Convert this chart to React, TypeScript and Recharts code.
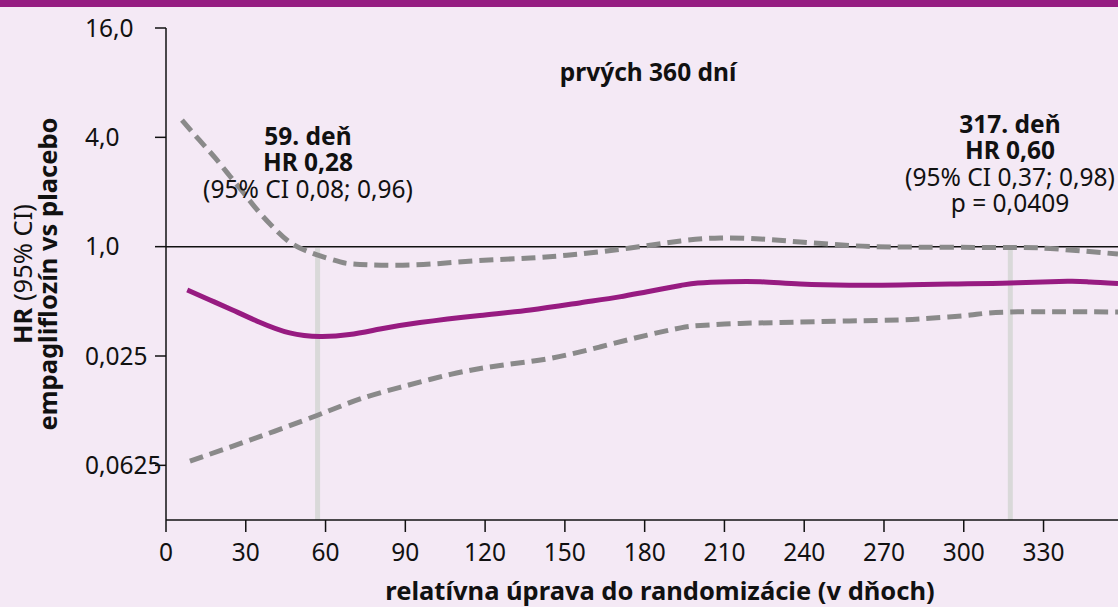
import { LineChart, Line, XAxis, YAxis, ReferenceLine } from "recharts";

// days since randomization, HR values
const estDays = [8, 16.5, 25, 35, 46.5, 58, 69, 80.5, 95.5, 118, 137, 155.5, 170.5, 181, 193.5, 200, 212, 223.5, 238.5, 257, 276, 295, 317.5, 339, 347.5, 358];
const estHR = [0.578, 0.509, 0.448, 0.385, 0.335, 0.32, 0.328, 0.352, 0.382, 0.418, 0.448, 0.49, 0.529, 0.565, 0.611, 0.631, 0.641, 0.641, 0.623, 0.613, 0.615, 0.623, 0.631, 0.645, 0.639, 0.627];

const upperDays = [6, 12.5, 18.5, 24, 29.5, 35, 41, 46.5, 52, 58, 65.5, 73, 93, 115.5, 137, 155.5, 174.5, 193.5, 208.5, 223.5, 238.5, 257, 276, 314, 332.5, 358];
const upperHR = [4.98, 3.87, 3.08, 2.45, 1.95, 1.55, 1.25, 1.06, 0.959, 0.889, 0.824, 0.798, 0.793, 0.834, 0.866, 0.911, 0.983, 1.075, 1.117, 1.102, 1.061, 1.015, 0.996, 0.99, 0.977, 0.911];

const lowerDays = [9, 31.5, 57, 73, 88, 107, 125, 144, 163, 181, 193.5, 201, 216, 231, 257, 276, 288.5, 302.5, 317.5, 358];
const lowerHR = [0.066, 0.086, 0.118, 0.145, 0.168, 0.198, 0.221, 0.242, 0.28, 0.326, 0.357, 0.368, 0.378, 0.382, 0.39, 0.395, 0.405, 0.42, 0.437, 0.437];

const xTicks = [0, 30, 60, 90, 120, 150, 180, 210, 240, 270, 300, 330];
const yTicks = [16, 4, 1, 0.25, 0.0625];
const yTickLabels = ["16,0", "4,0", "1,0", "0,025", "0,0625"];

const markDays = [57, 317.5];

const est = estDays.map((d, i) => ({ day: d, hr: estHR[i] }));
const upper = upperDays.map((d, i) => ({ day: d, hr: upperHR[i] }));
const lower = lowerDays.map((d, i) => ({ day: d, hr: lowerHR[i] }));

const FONT = "'Noto Sans', sans-serif";
const PURPLE = "#971b81";
const GREY = "#8a8a8a";

function YTick(props: any) {
  const { y, payload } = props;
  const idx = yTicks.indexOf(payload.value);
  return (
    <text x={85} y={y} dy="0.36em" textAnchor="start" fontSize={24.5} fill="#111" fontFamily={FONT}>
      {yTickLabels[idx]}
    </text>
  );
}

function XTick(props: any) {
  const { x, payload } = props;
  return (
    <text x={x} y={552} dy="0.36em" textAnchor="middle" fontSize={24.5} fill="#111" fontFamily={FONT}>
      {payload.value}
    </text>
  );
}

export default function App() {
  const text: React.CSSProperties = {
    position: "absolute",
    fontSize: 24.5,
    lineHeight: "26.5px",
    color: "#111",
    textAlign: "center",
    whiteSpace: "nowrap",
  };
  return (
    <div
      style={{
        position: "absolute",
        left: 0,
        top: 0,
        width: 1118,
        height: 607,
        overflow: "hidden",
        background: "#f4e9f5",
        fontFamily: FONT,
      }}
    >
      <div style={{ position: "absolute", left: 0, top: 0, width: 1118, height: 7, background: "#951c81" }} />
      <LineChart width={1118} height={607} margin={{ top: 28, right: 0, bottom: 0, left: 0 }}>
        <XAxis
          type="number"
          dataKey="day"
          domain={[0, 358]}
          ticks={xTicks}
          allowDataOverflow
          height={87}
          tick={<XTick />}
          tickSize={12}
          axisLine={{ stroke: "#111", strokeWidth: 1.5 }}
          tickLine={{ stroke: "#111", strokeWidth: 1.5 }}
        />
        <YAxis
          type="number"
          dataKey="hr"
          scale="log"
          domain={[0.03125, 16]}
          ticks={yTicks}
          allowDataOverflow
          width={166}
          tick={<YTick />}
          tickSize={11}
          axisLine={{ stroke: "#111", strokeWidth: 1.5 }}
          tickLine={{ stroke: "#111", strokeWidth: 1.5 }}
        />
        {markDays.map((d) => (
          <ReferenceLine
            key={d}
            segment={[{ x: d, y: 0.98 }, { x: d, y: 0.03125 }]}
            stroke="#d9d9d9"
            strokeWidth={5}
          />
        ))}
        <ReferenceLine y={1} stroke="#111" strokeWidth={1.5} />
        <Line data={upper} dataKey="hr" type="natural" stroke={GREY} strokeWidth={5} strokeDasharray="14 7" dot={false} isAnimationActive={false} />
        <Line data={lower} dataKey="hr" type="natural" stroke={GREY} strokeWidth={5} strokeDasharray="14 7" dot={false} isAnimationActive={false} />
        <Line data={est} dataKey="hr" type="natural" stroke={PURPLE} strokeWidth={5} dot={false} isAnimationActive={false} />
      </LineChart>

      <div style={{ ...text, left: 448, width: 400, top: 58.5, fontWeight: 700 }}>prvých 360 dní</div>
      <div style={{ ...text, left: 158, width: 300, top: 122.75 }}>
        <div style={{ fontWeight: 700 }}>59. deň</div>
        <div style={{ fontWeight: 700 }}>HR 0,28</div>
        <div>(95% CI 0,08; 0,96)</div>
      </div>
      <div style={{ ...text, left: 860, width: 300, top: 110.75 }}>
        <div style={{ fontWeight: 700 }}>317. deň</div>
        <div style={{ fontWeight: 700 }}>HR 0,60</div>
        <div>(95% CI 0,37; 0,98)</div>
        <div>p = 0,0409</div>
      </div>
      <div
        style={{
          ...text,
          left: 35 - 250,
          top: 274 - 25,
          width: 500,
          height: 50,
          lineHeight: "25px",
          fontSize: 25.5,
          transform: "rotate(-90deg)",
        }}
      >
        <div>
          <span style={{ fontWeight: 700 }}>HR</span> (95% CI)
        </div>
        <div style={{ fontWeight: 700 }}>empagliflozín vs placebo</div>
      </div>
      <div style={{ ...text, left: 310, width: 700, top: 577, fontWeight: 700, fontSize: 25.5 }}>
        relatívna úprava do randomizácie (v dňoch)
      </div>
    </div>
  );
}
